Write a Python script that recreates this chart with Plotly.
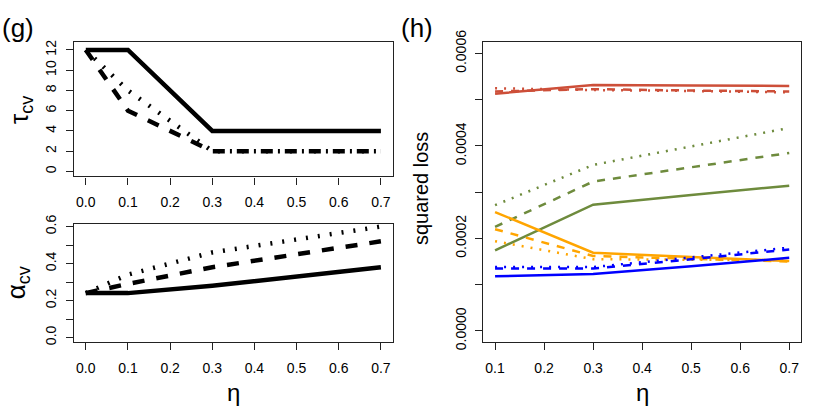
import plotly.graph_objects as go

# left panels: eta grid
eta_left = [0.0, 0.1, 0.3, 0.5, 0.7]
tau_solid = [12, 12, 4, 4, 4]
tau_dashed = [12, 6, 2, 2, 2]
tau_dotted = [12, 8, 2, 2, 2]
alpha_solid = [0.24, 0.24, 0.28, 0.33, 0.38]
alpha_dashed = [0.24, 0.29, 0.38, 0.45, 0.52]
alpha_dotted = [0.24, 0.34, 0.46, 0.53, 0.60]

# right panel: squared loss (x 1e-4)
eta_right = [0.1, 0.3, 0.5, 0.7]
red_solid = [5.13, 5.32, 5.31, 5.30]
red_dashed = [5.18, 5.23, 5.20, 5.18]
red_dotted = [5.25, 5.21, 5.19, 5.16]
green_solid = [1.74, 2.73, 2.94, 3.14]
green_dashed = [2.25, 3.23, 3.54, 3.85]
green_dotted = [2.72, 3.59, 3.99, 4.39]
orange_solid = [2.57, 1.69, 1.60, 1.51]
orange_dashed = [2.20, 1.62, 1.56, 1.50]
orange_dotted = [1.94, 1.55, 1.54, 1.53]
blue_solid = [1.18, 1.23, 1.40, 1.58]
blue_dashed = [1.35, 1.35, 1.55, 1.76]
blue_dotted = [1.38, 1.38, 1.59, 1.80]

DASH = "12px,12px"
DOT = "2px,10px"
W, H = 818, 414

fig = go.Figure()

# top-left: tau_cv
for ys, d in [(tau_solid, "solid"), (tau_dashed, DASH), (tau_dotted, DOT)]:
    fig.add_trace(go.Scatter(x=eta_left, y=ys, mode="lines", xaxis="x", yaxis="y",
                             line=dict(color="black", width=4.5, dash=d), showlegend=False))

# bottom-left: alpha_cv
for ys, d in [(alpha_solid, "solid"), (alpha_dashed, DASH), (alpha_dotted, DOT)]:
    fig.add_trace(go.Scatter(x=eta_left, y=ys, mode="lines", xaxis="x2", yaxis="y2",
                             line=dict(color="black", width=4.5, dash=d), showlegend=False))

# right: squared loss
series = [
    ("#CD4F39", red_solid, red_dashed, red_dotted),
    ("#6E8B3D", green_solid, green_dashed, green_dotted),
    ("#FFA500", orange_solid, orange_dashed, orange_dotted),
    ("#0000FF", blue_solid, blue_dashed, blue_dotted),
]
for col, s, da, do in series:
    for ys, d in [(s, "solid"), (da, "8px,8px"), (do, "2px,7px")]:
        fig.add_trace(go.Scatter(x=eta_right, y=[v * 1e-4 for v in ys], mode="lines",
                                 xaxis="x3", yaxis="y3",
                                 line=dict(color=col, width=2.5, dash=d), showlegend=False))

font_tick = dict(family="Liberation Sans, Arial", size=14, color="black")
axis_common = dict(showline=True, linecolor="#222", linewidth=1.3, mirror=True,
                   ticks="outside", ticklen=7, tickcolor="#222", showgrid=False,
                   zeroline=False, tickfont=font_tick)


def px_x(a, b):
    return [a / W, b / W]


def px_y(top, bottom):
    return [1 - bottom / H, 1 - top / H]


eta_ticks = [0, 0.1, 0.2, 0.3, 0.4, 0.5, 0.6, 0.7]
eta_text = ["0.0", "0.1", "0.2", "0.3", "0.4", "0.5", "0.6", "0.7"]
left_x = px_x(74, 392.7)
fig.update_layout(
    xaxis=dict(axis_common, domain=left_x, anchor="y", range=[-0.028, 0.728],
               tickvals=eta_ticks, ticktext=eta_text, ticklabelstandoff=6),
    yaxis=dict(axis_common, domain=px_y(32, 172.7), anchor="x", range=[-0.49, 12.74],
               tickvals=[0, 2, 4, 6, 8, 10, 12], tickangle=-90, ticklabelstandoff=4),
    xaxis2=dict(axis_common, domain=left_x, anchor="y2", range=[-0.028, 0.728],
                tickvals=eta_ticks, ticktext=eta_text, ticklabelstandoff=6),
    yaxis2=dict(axis_common, domain=px_y(222.7, 346.7), anchor="x2", range=[-0.024, 0.614],
                tickvals=[0, 0.1, 0.2, 0.3, 0.4, 0.5, 0.6],
                ticktext=["0.0", "", "0.2", "", "0.4", "", "0.6"], tickangle=-90,
                ticklabelstandoff=4),
    xaxis3=dict(axis_common, domain=px_x(483.3, 801), anchor="y3", range=[0.076, 0.724],
                tickvals=[0.1, 0.2, 0.3, 0.4, 0.5, 0.6, 0.7], ticklabelstandoff=6),
    yaxis3=dict(axis_common, domain=px_y(32, 346.7), anchor="x3", range=[-0.000024, 0.000624],
                tickvals=[0, 1e-4, 2e-4, 3e-4, 4e-4, 5e-4, 6e-4],
                ticktext=["0.0000", "", "0.0002", "", "0.0004", "", "0.0006"], tickangle=-90,
                ticklabelstandoff=4),
    width=W, height=H, margin=dict(l=0, r=0, t=0, b=0),
    plot_bgcolor="white", paper_bgcolor="white",
)

big = dict(family="Liberation Sans, Arial", size=26, color="black")
notes = [
    dict(text="(g)", x=0 / W, y=1 - 17 / H, xanchor="left", font=big),
    dict(text="(h)", x=399 / W, y=1 - 17 / H, xanchor="left", font=big),
    dict(text="τ<sub>cv</sub>", x=20 / W, y=1 - 103 / H, textangle=-90, font=dict(big, size=26)),
    dict(text="α<sub>cv</sub>", x=17 / W, y=1 - 284 / H, textangle=-90, font=dict(big, size=26)),
    dict(text="squared loss", x=421 / W, y=1 - 185 / H, textangle=-90, font=dict(big, size=20)),
    dict(text="η", x=233 / W, y=1 - 400 / H, font=dict(big, size=24)),
    dict(text="η", x=642 / W, y=1 - 400 / H, font=dict(big, size=24)),
]
for n in notes:
    n.update(xref="paper", yref="paper", showarrow=False)
    n.setdefault("xanchor", "center")
    n.setdefault("yanchor", "middle")
    fig.add_annotation(**n)

fig.write_html("out.html", config={"displayModeBar": False},
               post_script="document.body.style.margin='0';")
